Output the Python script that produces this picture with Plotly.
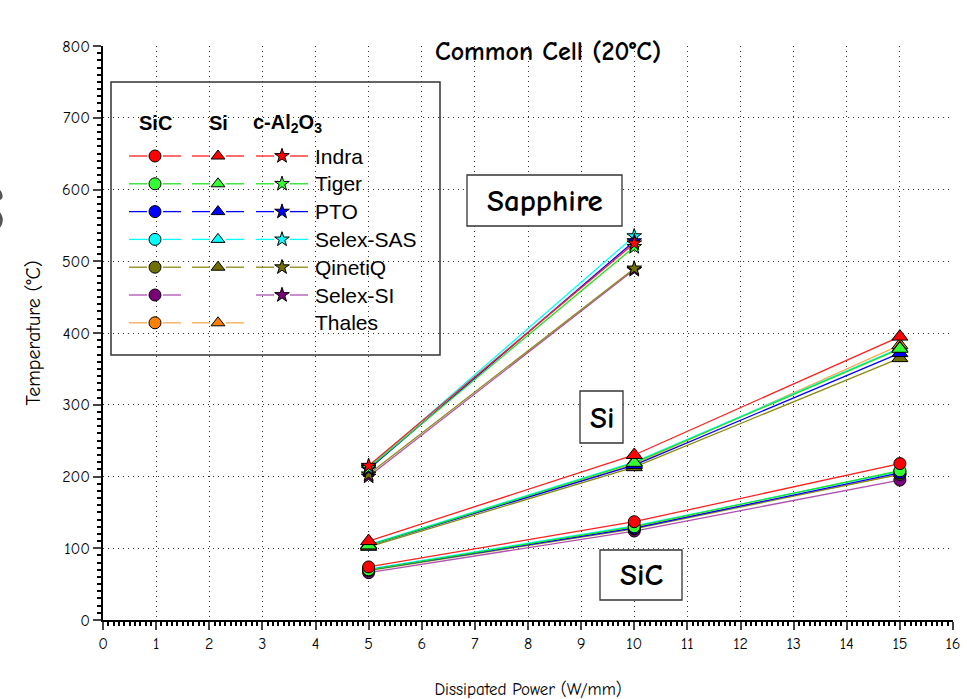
import plotly.graph_objects as go

# ---------------- data ----------------
companies = ["Indra", "Tiger", "PTO", "Selex-SAS", "QinetiQ", "Selex-SI", "Thales"]
power_sic = [5, 10, 15]
power_si = [5, 10, 15]
power_sap = [5, 10]

sic_indra = [74, 137, 218]
sic_tiger = [70, 130, 208]
sic_pto = [70, 128, 205]
sic_selex_sas = [71, 131, 207]
sic_qinetiq = [69, 127, 203]
sic_selex_si = [66, 124, 195]
sic_thales = [70, 129, 203]

si_indra = [110, 230, 395]
si_tiger = [104, 219, 378]
si_pto = [104, 216, 372]
si_selex_sas = [105, 220, 379]
si_qinetiq = [102, 213, 365]
si_thales = [104, 217, 383]

sap_indra = [215, 525]
sap_tiger = [212, 520]
sap_pto = [210, 528]
sap_selex_sas = [213, 535]
sap_qinetiq = [203, 490]
sap_selex_si = [200, 488]

x_ticks = list(range(0, 17))
y_ticks = list(range(0, 801, 100))

# ---------------- styles ----------------
line_col = {"Indra": "#FF2020", "Tiger": "#22E022", "PTO": "#0000FF", "Selex-SAS": "#00FFFF",
            "QinetiQ": "#8A8A10", "Selex-SI": "#B050B0", "Thales": "#FFA850"}
fill_col = {"Indra": "#FF0000", "Tiger": "#33FF33", "PTO": "#0000FF", "Selex-SAS": "#00FFFF",
            "QinetiQ": "#707000", "Selex-SI": "#7A007A", "Thales": "#FF8000"}

sic = {"Indra": sic_indra, "Tiger": sic_tiger, "PTO": sic_pto, "Selex-SAS": sic_selex_sas,
       "QinetiQ": sic_qinetiq, "Selex-SI": sic_selex_si, "Thales": sic_thales}
si = {"Indra": si_indra, "Tiger": si_tiger, "PTO": si_pto, "Selex-SAS": si_selex_sas,
      "QinetiQ": si_qinetiq, "Thales": si_thales}
sap = {"Indra": sap_indra, "Tiger": sap_tiger, "PTO": sap_pto, "Selex-SAS": sap_selex_sas,
       "QinetiQ": sap_qinetiq, "Selex-SI": sap_selex_si}

symbols = {"sic": ("circle", 12), "si": ("triangle-up", 14), "sap": ("star", 11)}

fig = go.Figure()

def add_group(data, xs, kind):
    sym, size = symbols[kind]
    for name in reversed(companies):
        if name not in data:
            continue
        fig.add_trace(go.Scatter(
            x=xs, y=data[name], mode="lines+markers", name=name, showlegend=False,
            line=dict(color=line_col[name], width=1.3),
            marker=dict(symbol=sym, size=size, color=fill_col[name],
                        line=dict(color="black", width=1)),
        ))

add_group(sic, power_sic, "sic")
add_group(si, power_si, "si")
add_group(sap, power_sap, "sap")

# ---------------- custom legend (overlay pixel axes) ----------------
L, R, T, B = 103, 953, 46, 620
def px(x):
    return (x - L) / (R - L)
def py(y):
    return (B - y) / (B - T)

col_x = {"sic": 155, "si": 218, "sap": 282}
row_y0, row_dy = 156, 27.8
for i, name in enumerate(companies):
    yy = row_y0 + i * row_dy
    for kind, data in (("sic", sic), ("si", si), ("sap", sap)):
        if name not in data:
            continue
        cx = col_x[kind]
        sym, size = symbols[kind]
        fig.add_trace(go.Scatter(
            x=[cx - 26, cx - 8, None, cx + 8, cx + 26], y=[yy, yy, None, yy, yy],
            xaxis="x2", yaxis="y2", mode="lines", showlegend=False, hoverinfo="skip",
            line=dict(color=line_col[name], width=1.3)))
        fig.add_trace(go.Scatter(
            x=[cx], y=[yy], xaxis="x2", yaxis="y2", mode="markers", showlegend=False,
            hoverinfo="skip",
            marker=dict(symbol=sym, size=(12 if kind != "sap" else 11), color=fill_col[name],
                        line=dict(color="black", width=1))))
    fig.add_annotation(x=px(313), y=py(yy), xref="paper", yref="paper", text=name,
                       showarrow=False, xanchor="left", yanchor="middle",
                       font=dict(family="Liberation Sans, Arial", size=21, color="black"))

for txt, xc in (("<b>SiC</b>", 155), ("<b>Si</b>", 218), ("<b>c-Al<sub>2</sub>O<sub>3</sub></b>", 287)):
    fig.add_annotation(x=px(xc), y=py(123), xref="paper", yref="paper", text=txt,
                       showarrow=False, xanchor="center", yanchor="middle",
                       font=dict(family="Liberation Sans, Arial", size=20, color="black"))

shapes = [dict(type="rect", xref="paper", yref="paper", x0=px(111), x1=px(440),
               y0=py(355), y1=py(82), line=dict(color="#333", width=1.5),
               fillcolor="white", layer="below")]

# text boxes
comic = "Comic Sans MS, Comic Neue, Noto Sans, DejaVu Sans"
def boxed(text, cx, cy, x0, x1, y0, y1, size):
    shapes.append(dict(type="rect", xref="paper", yref="paper", x0=px(x0), x1=px(x1),
                       y0=py(y1), y1=py(y0), line=dict(color="#333", width=1.3),
                       fillcolor="white"))
    fig.add_annotation(x=px(cx), y=py(cy), xref="paper", yref="paper", text=text,
                       showarrow=False, xanchor="center", yanchor="middle",
                       font=dict(family=comic, size=size, color="black"))

boxed("<b>Sapphire</b>", 545, 201, 467, 622, 175, 226, 31)
boxed("<b>Si</b>", 602, 418, 580, 623, 391, 443, 31)
boxed("<b>SiC</b>", 641, 575, 600, 682, 550, 600, 31)

fig.add_annotation(x=px(548), y=py(52), xref="paper", yref="paper",
                   text="<b>Common Cell (20°C)</b>", showarrow=False,
                   xanchor="center", yanchor="middle",
                   font=dict(family=comic, size=26, color="black"))

# clipped artifact at the left edge
fig.add_annotation(x=px(-14), y=py(212), xref="paper", yref="paper", text="<b>S</b>",
                   showarrow=False, xanchor="center", yanchor="middle",
                   font=dict(family=comic, size=70, color="#555"))

grid_dash = "1px,4px"
fig.update_layout(
    width=967, height=699,
    margin=dict(l=L, r=967 - R, t=T, b=699 - B, autoexpand=False),
    paper_bgcolor="white", plot_bgcolor="white",
    shapes=shapes,
    font=dict(family=comic, size=16, color="black"),
    xaxis=dict(range=[0, 16], tickvals=x_ticks, ticks="outside", ticklen=8, tickwidth=1.5,
               showline=True, linecolor="black", linewidth=1.5, zeroline=False,
               showgrid=True, gridcolor="#333", griddash=grid_dash, gridwidth=1.2,
               minor=dict(dtick=0.1, ticks="outside", ticklen=4, tickcolor="black", showgrid=False),
               title=dict(text="Dissipated Power (W/mm)", standoff=35, font=dict(size=17)),
               tickfont=dict(size=16), fixedrange=True, automargin=False),
    yaxis=dict(range=[0, 800], tickvals=y_ticks, ticks="outside", ticklen=8, tickwidth=1.5,
               showline=True, linecolor="black", linewidth=1.5, zeroline=False,
               showgrid=True, gridcolor="#333", griddash=grid_dash, gridwidth=1.2,
               minor=dict(dtick=10, ticks="outside", ticklen=4, tickcolor="black", showgrid=False),
               title=dict(text="Temperature (°C)", standoff=16, font=dict(size=20)),
               tickfont=dict(size=16), fixedrange=True, automargin=False),
    xaxis2=dict(overlaying="x", range=[L, R], visible=False, fixedrange=True),
    yaxis2=dict(overlaying="y", range=[B, T], visible=False, fixedrange=True),
)

fig.write_html("out.html")
